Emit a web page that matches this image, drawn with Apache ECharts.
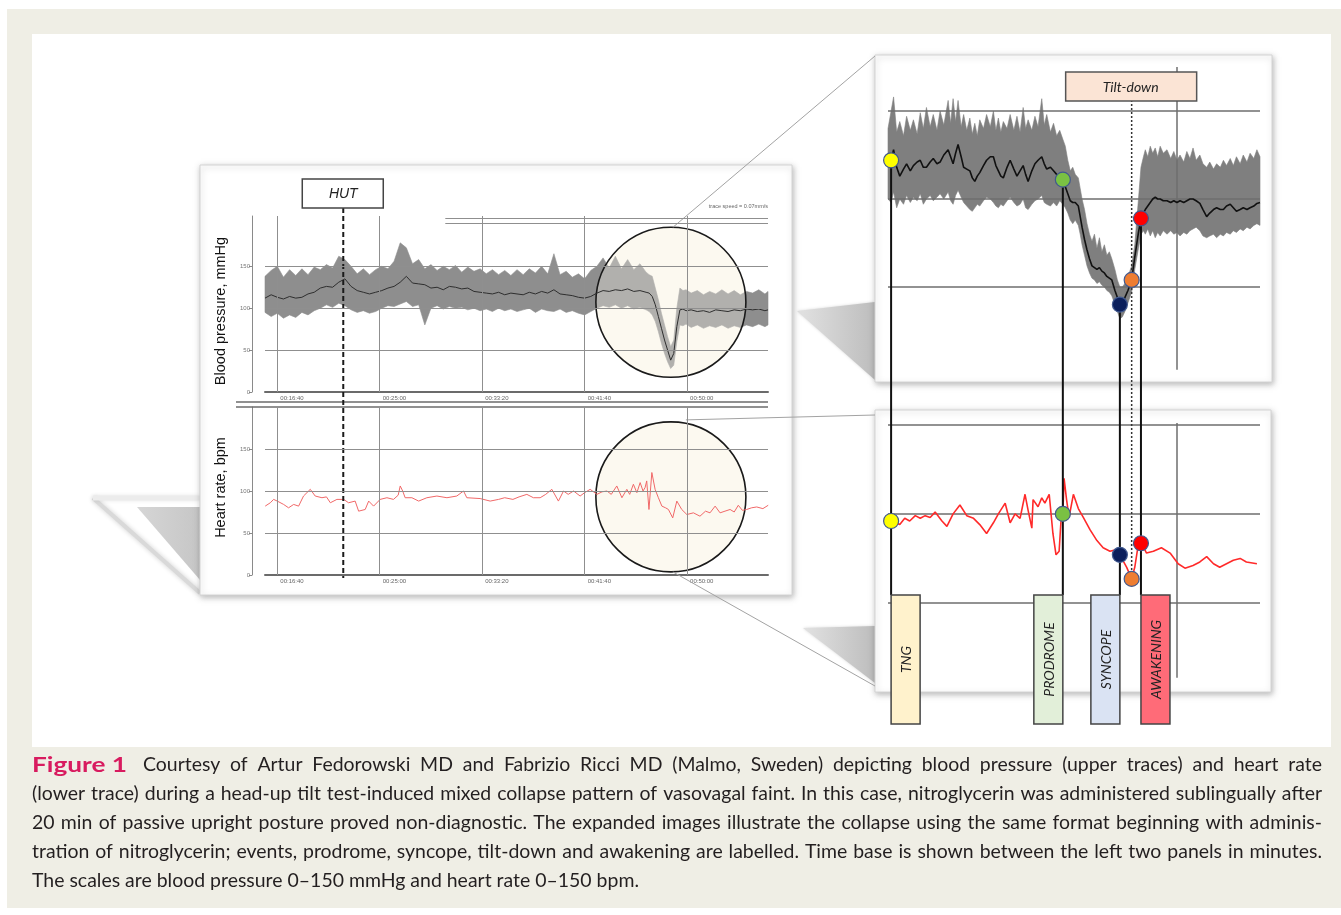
<!DOCTYPE html>
<html><head><meta charset="utf-8">
<script src="https://cdn.jsdelivr.net/npm/echarts@6/dist/echarts.min.js"></script>
<style>html,body{margin:0;padding:0;background:#fff}#c{width:1341px;height:915px}</style>
</head><body><div id="c"></div>
<script>
// ---------------- DATA ----------------
// Left overview panels: time in seconds of the recording
const timeTicks = [1000, 1500, 2000, 2500, 3000];
const valueTicks = [0, 50, 100, 150];

const lbpTime = [940,970,1000,1030,1060,1090,1120,1150,1180,1210,
 1240,1270,1300,1330,1360,1390,1420,1450,1480,1510,
 1540,1570,1600,1630,1660,1690,1720,1750,1780,1810,
 1840,1870,1900,1930,1960,1990,2020,2050,2080,2110,
 2140,2170,2200,2230,2260,2290,2320,2350,2380,2410,
 2440,2470,2500,2530,2560,2590,2620,2650,2680,2710,
 2740,2770,2800,2815,2830,2845,2860,2875,2890,2905,
 2920,2935,2950,2965,2980,2995,3020,3050,3080,3110,
 3140,3170,3200,3230,3260,3290,3320,3350,3380,3395];
const lbpMean = [112,116,113,111,114,112,113,117,119,124,
 126,125,131,135,126,121,119,117,119,121,
 124,126,131,138,130,129,128,124,125,122,
 126,125,123,124,120,119,118,117,119,116,
 118,117,116,119,117,120,118,122,117,116,
 115,113,112,114,118,121,120,122,121,123,
 120,121,119,118,114,104,90,76,62,50,
 38,46,78,98,99,97,98,96,97,95,
 98,97,96,98,97,99,98,99,97,98];
const lbpHigh = [138,145,150,137,146,139,147,140,149,146,
 152,148,162,158,150,141,147,140,146,150,
 147,156,178,172,153,158,147,152,145,150,
 146,151,143,149,144,147,141,146,140,145,
 139,146,140,147,142,150,141,165,140,144,
 137,141,135,145,150,160,148,162,147,158,
 146,153,143,140,138,124,110,94,80,66,
 54,62,100,124,121,122,118,121,116,120,
 117,122,117,121,116,120,118,122,117,120];
const lbpLow = [95,90,94,88,92,89,95,92,97,100,
 104,101,106,103,98,95,97,94,96,100,
 103,102,105,108,102,104,80,100,103,99,
 102,100,101,98,100,97,99,96,100,97,
 99,96,98,100,95,99,97,96,99,95,
 97,94,92,96,100,103,101,104,100,103,
 99,101,98,96,92,84,72,58,46,36,
 28,32,60,80,79,81,77,80,76,79,
 77,80,76,79,77,80,78,81,78,80];

const lhrTime = [941,966,982,1000,1031,1055,1080,1104,1128,1161,
 1185,1218,1240,1259,1291,1324,1348,1380,1397,1429,
 1446,1470,1502,1535,1567,1590,1600,1612,1624,1657,
 1690,1730,1779,1828,1876,1909,1925,1990,2039,2080,
 2110,2150,2180,2218,2250,2283,2310,2340,2372,2397,
 2420,2446,2478,2500,2527,2560,2585,2609,2630,2657,
 2682,2706,2720,2738,2755,2771,2785,2795,2803,2814,
 2828,2844,2860,2877,2895,2909,2930,2950,2974,2999,
 3031,3063,3090,3112,3137,3161,3185,3210,3230,3250,
 3270,3291,3315,3340,3370,3396];
const lhrValue = [82,86,90,88,84,80,84,82,94,102,
 94,92,93,86,90,90,86,88,76,78,
 88,82,90,92,90,95,106,100,92,92,
 88,92,94,92,94,100,92,91,88,90,
 92,90,93,96,92,92,96,102,88,100,
 96,100,94,98,102,96,99,100,96,106,
 92,102,96,108,98,110,100,104,112,78,
 122,102,92,82,80,78,68,88,78,72,
 74,70,76,74,82,74,76,78,75,83,
 77,78,80,81,79,83];

// Right expanded panels: seconds from start of the expanded window
const rbpTime = [0,5,9,14,19,25,30,36,41,47,
 52,57,62,68,73,79,84,90,97,101,
 105,109,113,118,122,127,132,136,140,144,
 148,154,159,165,170,174,178,182,186,192,
 197,203,208,213,218,222,226,232,237,242,
 248,252,256,262,267,272,277,282,286,290,
 294,298,302,307,310,313,317,321,325,329,
 333,337,341,345,349,353,357,361,366,370,
 374,378,382,387,393,398,404,408,412,415,
 419,423,427,431,435,439,444,450,456,461,
 466,471,477,482,487,492,497,503,508,514,
 519,525,530,536,541,546,552,557,562,568,
 573,579,584,590,595,600];
const rbpMean = [122,122,128,118,113,117,120,116,119,121,
 122,118,118,121,123,120,121,125,128,124,
 120,126,131,124,118,117,116,112,110,113,
 115,119,122,124,124,119,116,113,112,118,
 122,117,113,116,119,114,110,116,120,122,
 124,120,117,118,116,114,112,111,107,103,
 99,98,98,96,90,84,77,71,66,62,
 61,60,61,59,58,56,55,54,48,44,
 40,41,44,48,54,67,81,89,92,94,
 96,98,100,101,100,100,99,99,98,99,
 98,99,98,99,100,100,99,97.5,94,90,
 92,94,95,94,94,96,97,95,93,94,
 95,94,95,96,97.5,98];
const rbpHigh = [140,150,158,138,144,136,147,139,145,137,
 149,140,152,141,148,139,150,142,156,143,
 157,144,156,141,148,139,146,137,143,136,
 145,140,148,141,150,139,146,138,144,140,
 148,139,147,138,152,140,145,139,147,141,
 157,142,148,138,143,136,139,134,130,122,
 116,118,114,112,106,100,94,86,80,76,
 80,72,78,70,74,68,70,66,60,54,
 50,50,52,56,62,74,100,118,124,128,
 124,130,126,129,124,130,126,128,123,127,
 122,125,121,127,123,129,122,125,120,118,
 121,117,120,118,122,119,123,119,124,120,
 125,121,126,123,128,124];
const rbpLow = [100,98,104,95,100,97,102,98,101,99,
 103,97,100,102,99,101,103,100,104,99,
 97,102,105,101,98,96,94,93,95,97,
 96,99,101,100,98,96,95,97,96,99,
 101,98,96,97,100,95,94,97,99,100,
 102,98,97,96,98,96,99,97,95,92,
 88,86,88,85,80,74,68,62,58,55,
 54,52,53,51,50,48,47,45,40,36,
 32,33,36,41,47,60,72,80,82,80,
 83,79,82,78,81,79,82,80,82,80,
 81,79,81,80,82,83,84,82,79,78,
 79,80,78,80,79,81,80,82,81,83,
 82,84,83,85,86,85];

const rhrTime = [5,19,27,35,44,52,60,68,76,87,
 95,105,116,127,138,148,159,170,178,189,
 197,205,213,221,226,232,234,242,248,253,
 260,266,271,276,279,282,284,288,292,299,
 307,315,326,337,347,358,369,374,385,393,
 398,404,409,417,428,441,455,468,479,492,
 503,514,525,535,546,557,568,578,595];
const rhrValue = [96,94,97.5,96,99,97.5,99,98,101,96,
 93,100,105,99,97.5,94,89,95,100,106,
 95,100,97.5,111,102,92,108,104,109,106,
 111,89,77,79,96,100,120,108,98,111,
 103,98,91,85,81,79,80,77,70,63.5,
 70,83.5,83.5,78,79,81,78,72,69.5,71,
 73,76,72,70,72,74,75,73,72];

// Events (expanded window)
const eventNames = ['TNG', 'PRODROME', 'SYNCOPE', 'AWAKENING'];
const eventTimes = [5, 282, 374, 408];
const eventBP = [122, 111, 40, 89];
const dotTimes = [5, 282, 374, 393, 408];
const dotBP = [122, 111, 40, 54, 89];
const dotHR = [96, 100, 77, 63.5, 83.5];
const hutTime = 1322;
const tiltTime = 393;
const tiltHR = 63.5;
const refLineTime = 466;

// ---------------- STYLE ----------------
const dotColors = ['#ffff00', '#7ac143', '#0b1f5c', '#ee7d31', '#ff0000'];
const boxColors = ['#fff2cc', '#e2efd9', '#dae3f3', '#ff6b78'];
const boxSide = ['right', 'left', 'left', 'right'];

const pairs = (xs, ys) => xs.map((x, i) => [x, ys[i]]);
function fmtTime(v) {
  const p = n => String(n).padStart(2, '0');
  return p(Math.floor(v / 3600)) + ':' + p(Math.floor((v % 3600) / 60)) + ':' + p(Math.round(v % 60));
}
function mk(data, color, width) {
  return { silent: true, symbol: ['none', 'none'], label: { show: false },
    lineStyle: { color: color, width: width, type: 'solid' }, emphasis: { disabled: true }, animation: false, data: data };
}
// band (envelope) drawn as a polygon through the axis scales
function bandSeries(gi, ts, hi, lo, color) {
  return { type: 'custom', xAxisIndex: gi, yAxisIndex: gi, silent: true, z: 2, clip: false,
    data: [[ts[0], lo[0]]],
    renderItem: (params, api) => {
      const pts = ts.map((t, i) => api.coord([t, hi[i]]));
      for (let i = ts.length - 1; i >= 0; i--) pts.push(api.coord([ts[i], lo[i]]));
      return { type: 'polygon', shape: { points: pts }, style: { fill: color, stroke: color, lineWidth: 0.6 } };
    } };
}
const leftX = (gi) => ({
  gridIndex: gi, type: 'value', min: 940, max: 3395, splitLine: { show: false },
  axisLine: { show: true, onZero: false, lineStyle: { color: '#6b6b6b', width: 2 } },
  axisTick: { show: false },
  axisLabel: { customValues: timeTicks, formatter: fmtTime, fontSize: 6, color: '#666', align: 'left', margin: 3, padding: [0, 0, 0, 3] }
});
const leftY = (gi, max, name, pad) => ({
  gridIndex: gi, type: 'value', min: 0, max: max, offset: 13, splitLine: { show: false },
  axisLine: { show: true, lineStyle: { color: '#8a8a8a', width: 1 } },
  axisTick: { show: true, customValues: valueTicks, length: 3, lineStyle: { color: '#8a8a8a' } },
  axisLabel: { customValues: valueTicks, fontSize: 6, color: '#777', margin: 2 },
  name: name, nameLocation: 'middle', nameGap: 24,
  nameTextStyle: { fontSize: 14.5, color: '#111', fontFamily: 'Liberation Sans', padding: pad }
});

const option = {
  animation: false,
  backgroundColor: '#ffffff',
  grid: [
    { left: 265, top: 216, width: 503, height: 176 },
    { left: 265, top: 407, width: 503, height: 168 },
    { left: 888, top: 67, width: 372, height: 308 },
    { left: 888, top: 407, width: 372, height: 285 }
  ],
  xAxis: [leftX(0), leftX(1),
    { gridIndex: 2, type: 'value', min: 0, max: 600, show: false },
    { gridIndex: 3, type: 'value', min: 0, max: 600, show: false }],
  yAxis: [leftY(0, 210, 'Blood pressure, mmHg', [0, 14, 0, 0]),
    leftY(1, 200, 'Heart rate, bpm', [0, 0, 0, 7]),
    { gridIndex: 2, type: 'value', min: 0, max: 175, show: false },
    { gridIndex: 3, type: 'value', min: 0, max: 160, show: false }],
  series: [
    // left BP
    bandSeries(0, lbpTime, lbpHigh, lbpLow, '#8e8e8e'),
    { type: 'line', xAxisIndex: 0, yAxisIndex: 0, data: pairs(lbpTime, lbpMean), symbol: 'none', silent: true,
      lineStyle: { width: 1, color: '#2e2e2e' },
      markLine: mk([{ yAxis: 50 }, { yAxis: 100 }, { yAxis: 150 }].concat(timeTicks.map(t => ({ xAxis: t })))
        .concat([[{ coord: [1820, 207] }, { coord: [3395, 207] }], [{ coord: [1820, 201] }, { coord: [3395, 201] }]]), '#8f8f8f', 1) },
    // left HR
    { type: 'line', xAxisIndex: 1, yAxisIndex: 1, data: pairs(lhrTime, lhrValue), symbol: 'none', silent: true,
      lineStyle: { width: 1, color: '#f06868' },
      markLine: mk([{ yAxis: 50 }, { yAxis: 100 }, { yAxis: 150 }].concat(timeTicks.map(t => ({ xAxis: t }))), '#8f8f8f', 1) },
    // right BP
    bandSeries(2, rbpTime, rbpHigh, rbpLow, '#7f7f7f'),
    { type: 'line', xAxisIndex: 2, yAxisIndex: 2, data: pairs(rbpTime, rbpMean), symbol: 'none', silent: true, z: 6,
      lineStyle: { width: 1.6, color: '#111' },
      markLine: mk([{ yAxis: 50 }, { yAxis: 100 }, { yAxis: 150 }, [{ coord: [refLineTime, 3] }, { coord: [refLineTime, 175] }]], '#6e6e6e', 1.5) },
    // right HR
    { type: 'line', xAxisIndex: 3, yAxisIndex: 3, data: pairs(rhrTime, rhrValue), symbol: 'none', silent: true, z: 6,
      lineStyle: { width: 1.6, color: '#ff2a2a' },
      markLine: mk([{ yAxis: 50 }, { yAxis: 100 }, { yAxis: 150 }, [{ coord: [refLineTime, 8] }, { coord: [refLineTime, 151] }]], '#6e6e6e', 1.5) },
    // event dots
    { type: 'scatter', xAxisIndex: 2, yAxisIndex: 2, z: 10, symbolSize: 15, silent: true,
      data: dotTimes.map((t, i) => ({ value: [t, dotBP[i]], itemStyle: { color: dotColors[i], borderColor: '#41598f', borderWidth: 1.2, opacity: 1 } })) },
    { type: 'scatter', xAxisIndex: 3, yAxisIndex: 3, z: 10, symbolSize: 15, silent: true,
      data: dotTimes.map((t, i) => ({ value: [t, dotHR[i]], itemStyle: { color: dotColors[i], borderColor: '#41598f', borderWidth: 1.2, opacity: 1 } })) }
  ]
};

const chart = echarts.init(document.getElementById('c'), null, { renderer: 'canvas', width: 1341, height: 915 });
chart.setOption(option);

const P = (g, x, y) => chart.convertToPixel({ gridIndex: g }, [x, y]);
const els = [];
const line = (x1, y1, x2, y2, st, z) => els.push({ type: 'line', silent: true, z: z || 0, shape: { x1, y1, x2, y2 }, style: st });

// page backgrounds
els.push({ type: 'rect', silent: true, z: 0, shape: { x: 7, y: 9, width: 1334, height: 899 }, style: { fill: '#efeee5' } });
els.push({ type: 'rect', silent: true, z: 0, shape: { x: 32, y: 34, width: 1299, height: 713 }, style: { fill: '#ffffff' } });

// perspective shadows
els.push({ type: 'polyline', silent: true, z: 0, shape: { points: [[93, 498], [200, 593]] },
  style: { stroke: '#d9d9d9', lineWidth: 4, shadowBlur: 5, shadowColor: 'rgba(0,0,0,0.2)' } });
els.push({ type: 'polyline', silent: true, z: 0, shape: { points: [[93, 498], [200, 498]] },
  style: { stroke: '#ececec', lineWidth: 5, shadowBlur: 4, shadowColor: 'rgba(0,0,0,0.1)' } });
els.push({ type: 'polygon', silent: true, z: 0, shape: { points: [[137, 507], [200, 507], [200, 580]] },
  style: { fill: { type: 'linear', x: 0, y: 0, x2: 1, y2: 0, colorStops: [{ offset: 0, color: '#d6d6d6' }, { offset: 1, color: '#c6c6c6' }] } } });
els.push({ type: 'polygon', silent: true, z: 0, shape: { points: [[797, 311], [875, 302], [875, 380]] },
  style: { fill: { type: 'linear', x: 0, y: 0, x2: 1, y2: 0, colorStops: [{ offset: 0, color: '#e2e2e2' }, { offset: 1, color: '#bdbdbd' }] }, shadowBlur: 3, shadowColor: 'rgba(0,0,0,0.15)' } });
els.push({ type: 'polygon', silent: true, z: 0, shape: { points: [[803, 628], [875, 626], [875, 683]] },
  style: { fill: { type: 'linear', x: 0, y: 0, x2: 1, y2: 0, colorStops: [{ offset: 0, color: '#e2e2e2' }, { offset: 1, color: '#bdbdbd' }] }, shadowBlur: 3, shadowColor: 'rgba(0,0,0,0.15)' } });

// panels
const panelStyle = { fill: '#ffffff', stroke: '#d4d4d4', lineWidth: 1, shadowBlur: 6, shadowColor: 'rgba(0,0,0,0.28)', shadowOffsetX: 1, shadowOffsetY: 2 };
els.push({ type: 'rect', silent: true, z: 0, shape: { x: 200, y: 165, width: 592, height: 430 }, style: panelStyle });
els.push({ type: 'rect', silent: true, z: 0, shape: { x: 875, y: 55, width: 397, height: 327 }, style: panelStyle });
els.push({ type: 'rect', silent: true, z: 0, shape: { x: 875, y: 410, width: 396, height: 282 }, style: panelStyle });

// magnifier circles (background + overlay)
const cBP = P(0, 2921, 107), cHR = P(1, 2921, 93);
[cBP, cHR].forEach(c => els.push({ type: 'circle', silent: true, z: 0, shape: { cx: c[0], cy: c[1], r: 75 }, style: { fill: '#fcf9f1' } }));
[cBP, cHR].forEach(c => els.push({ type: 'circle', silent: true, z: 3, shape: { cx: c[0], cy: c[1], r: 75 },
  style: { fill: 'rgba(252,249,240,0.32)', stroke: '#1a1a1a', lineWidth: 1.6 } }));

// extra axis rules between the left panels
line(236, 402, 768, 402, { stroke: '#6b6b6b', lineWidth: 1.5 }, 1);
line(236, 407, 768, 407, { stroke: '#6b6b6b', lineWidth: 1.5 }, 1);

// connectors
const conn = { stroke: '#a3a3a3', lineWidth: 1 };
line(cBP[0] + 2, cBP[1] - 75, 875, 56, conn, 3);
line(cHR[0] + 15, cHR[1] - 77, 875, 415, conn, 3);
line(cHR[0] + 2, cHR[1] + 75, 875, 686, conn, 3);

// trace speed text
els.push({ type: 'text', silent: true, z: 4, x: 768, y: 206, style: { text: 'trace speed = 0.07mm/s', fontSize: 5.5, fill: '#666', align: 'right', verticalAlign: 'middle', fontFamily: 'Liberation Sans' } });

// HUT marker
const hutX = P(0, hutTime, 0)[0];
line(hutX, 208, hutX, P(1, hutTime, 0)[1] + 3, { stroke: '#1a1a1a', lineWidth: 2, lineDash: [5, 3] }, 4);
els.push({ type: 'rect', silent: true, z: 4, shape: { x: hutX - 41, y: 179, width: 81, height: 29 }, style: { fill: '#fff', stroke: '#444', lineWidth: 1.5 } });
els.push({ type: 'text', silent: true, z: 5, x: hutX, y: 194, style: { text: 'HUT', fontSize: 14, fontStyle: 'italic', fontFamily: 'Liberation Sans', fill: '#222', align: 'center', verticalAlign: 'middle' } });

// tilt-down marker
const tiltX = P(2, tiltTime, 0)[0];
const tiltBottom = P(3, tiltTime, tiltHR)[1];
line(tiltX, 100, tiltX, tiltBottom, { stroke: '#333', lineWidth: 1.5, lineDash: [2, 2] }, 7);
els.push({ type: 'rect', silent: true, z: 8, shape: { x: tiltX - 66, y: 72, width: 131, height: 29 }, style: { fill: '#fbe4d5', stroke: '#555', lineWidth: 1.5 } });
els.push({ type: 'text', silent: true, z: 9, x: tiltX - 1, y: 87, style: { text: 'Tilt-down', fontSize: 14, fontStyle: 'italic', fontFamily: 'Lato', fill: '#222', align: 'center', verticalAlign: 'middle' } });

// event lines and label boxes
const boxTop = 595, boxH = 129, boxW = 29;
eventNames.forEach((name, i) => {
  const p = P(2, eventTimes[i], eventBP[i]);
  line(p[0], p[1], p[0], boxTop, { stroke: '#111', lineWidth: 2 }, 7);
  const bx = boxSide[i] === 'right' ? p[0] : p[0] - boxW;
  els.push({ type: 'rect', silent: true, z: 8, shape: { x: bx, y: boxTop, width: boxW, height: boxH }, style: { fill: boxColors[i], stroke: '#444', lineWidth: 1.5 } });
  els.push({ type: 'text', silent: true, z: 9, x: bx + boxW / 2 + 1, y: boxTop + boxH / 2, rotation: Math.PI / 2,
    style: { text: name, fontSize: 14, fontStyle: 'italic', fontFamily: 'Lato', fill: '#222', align: 'center', verticalAlign: 'middle' } });
});

// caption (justified)
const capLines = [
  'Courtesy of Artur Fedorowski MD and Fabrizio Ricci MD (Malmo, Sweden) depicting blood pressure (upper traces) and heart rate',
  '(lower trace) during a head-up tilt test-induced mixed collapse pattern of vasovagal faint. In this case, nitroglycerin was administered sublingually after',
  '20 min of passive upright posture proved non-diagnostic. The expanded images illustrate the collapse using the same format beginning with adminis-',
  'tration of nitroglycerin; events, prodrome, syncope, tilt-down and awakening are labelled. Time base is shown between the left two panels in minutes.',
  'The scales are blood pressure 0\u2013150 mmHg and heart rate 0\u2013150 bpm.'
];
const capStart = [143, 32, 32, 32, 32];
const capY = [765, 794, 823, 852, 881];
const capRight = 1322;
const capSize = 20, capFamily = 'Lato';
const cv = document.createElement('canvas').getContext('2d');
const tw = (s, f) => { cv.font = f; return cv.measureText(s).width; };
const capFont = capSize + 'px ' + capFamily;
let sc = Infinity;
for (let i = 0; i < 4; i++) sc = Math.min(sc, (capRight - capStart[i]) / tw(capLines[i], capFont));
sc *= 0.985;
const figText = 'Figure 1';
const figW = tw(figText, 'bold 21px Lato');
els.push({ type: 'text', silent: true, z: 10, x: 32, y: capY[0], scaleX: 95 / figW,
  style: { text: figText, fontSize: 21, fontWeight: 'bold', fontFamily: 'Lato', fill: '#d81b5f', verticalAlign: 'middle' } });
capLines.forEach((ln, i) => {
  const words = ln.split(' ');
  const ws = words.map(w => tw(w, capFont) * sc);
  const total = ws.reduce((a, b) => a + b, 0);
  const gap = i < 4 ? (capRight - capStart[i] - total) / (words.length - 1) : tw(' ', capFont) * sc;
  let x = capStart[i];
  words.forEach((w, k) => {
    els.push({ type: 'text', silent: true, z: 10, x: x, y: capY[i], scaleX: sc,
      style: { text: w, fontSize: capSize, fontFamily: capFamily, fill: '#231f20', verticalAlign: 'middle' } });
    x += ws[k] + gap;
  });
});

chart.setOption({ graphic: { elements: els } });
</script></body></html>
